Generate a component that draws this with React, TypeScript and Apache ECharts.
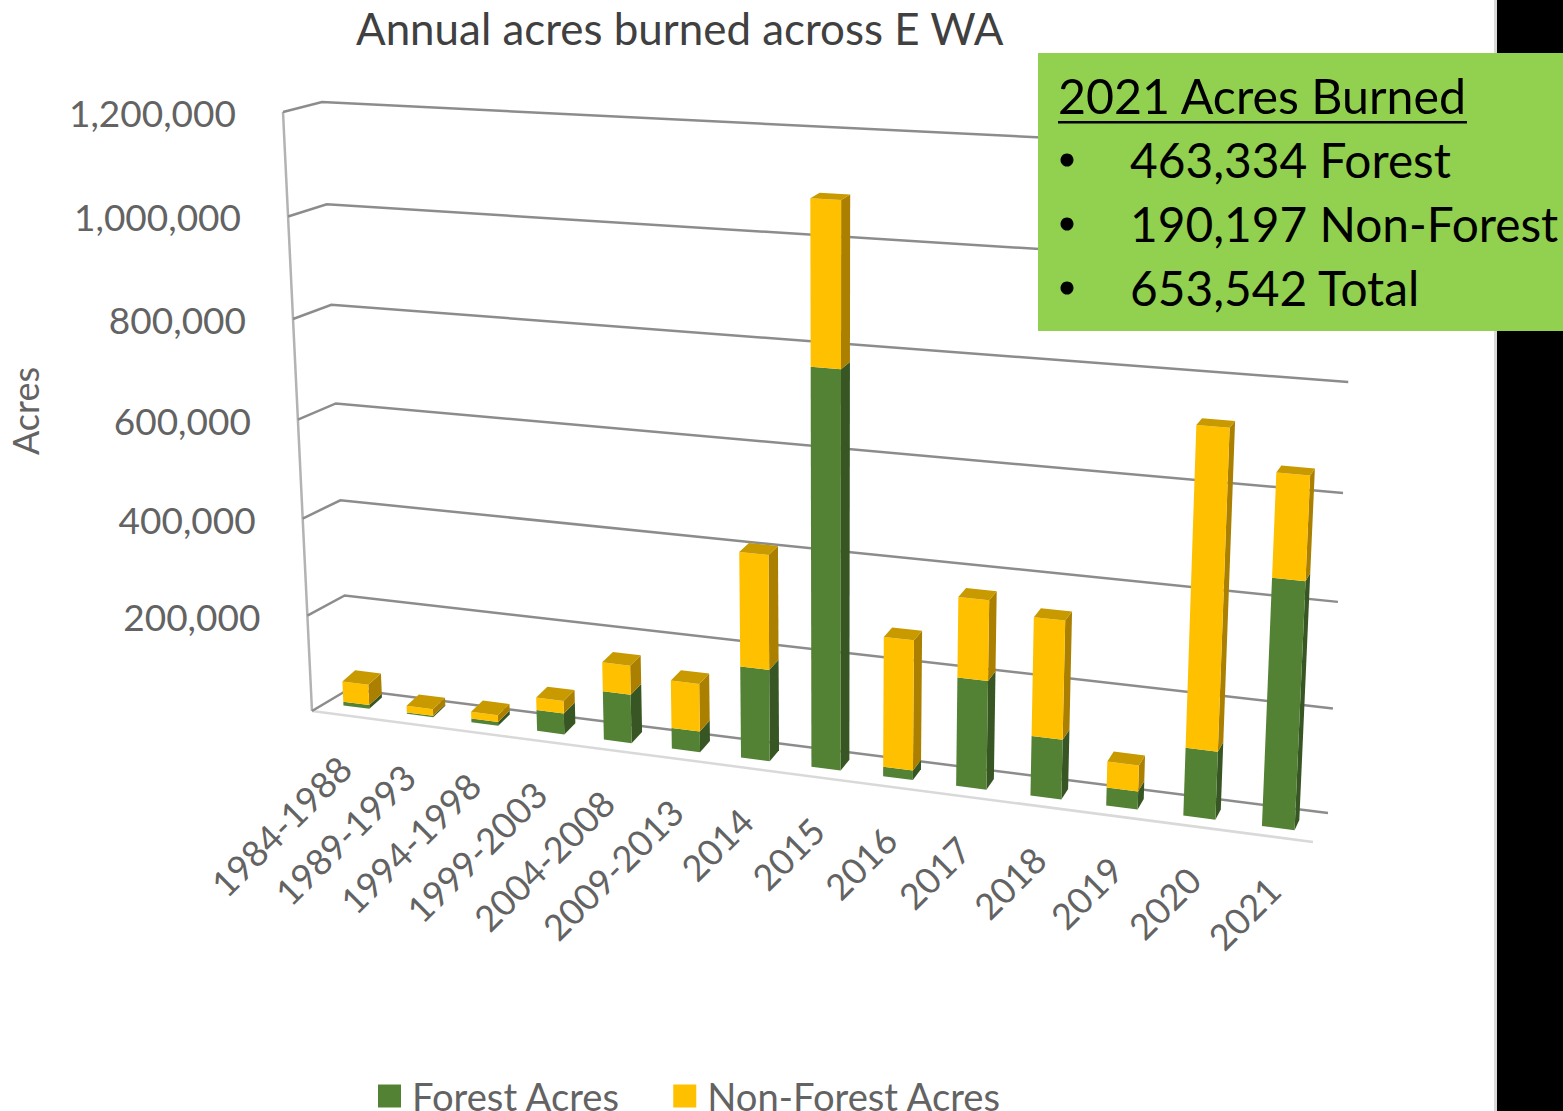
import React, { useEffect, useRef } from "react";
import * as echarts from "echarts";

const categories = ["1984-1988","1989-1993","1994-1998","1999-2003","2004-2008","2009-2013","2014","2015","2016","2017","2018","2019","2020","2021"];
const forestAcres = [8000,3000,8000,43000,99000,42000,183000,775000,19000,212000,116000,35000,130000,463334];
const nonForestAcres = [43000,14000,14000,26000,59000,96000,226000,310000,255000,155000,228000,50000,596000,190197];
const yTicks = [0,200000,400000,600000,800000,1000000,1200000];
const yTickLabels = ["","200,000","400,000","600,000","800,000","1,000,000","1,200,000"];
const boxHeading = "2021 Acres Burned";
const boxLines = ["463,334 Forest","190,197 Non-Forest","653,542 Total"];

type Pt = [number, number];
function homography(p0: Pt, p1: Pt, p2: Pt, p3: Pt) {
  const dx1 = p1[0]-p2[0], dx2 = p3[0]-p2[0], sx = p0[0]-p1[0]+p2[0]-p3[0];
  const dy1 = p1[1]-p2[1], dy2 = p3[1]-p2[1], sy = p0[1]-p1[1]+p2[1]-p3[1];
  const den = dx1*dy2-dx2*dy1;
  const g = (sx*dy2-dx2*sy)/den, h = (dx1*sy-sx*dy1)/den;
  const a = p1[0]-p0[0]+g*p1[0], b = p3[0]-p0[0]+h*p3[0], c = p0[0];
  const d = p1[1]-p0[1]+g*p1[1], e = p3[1]-p0[1]+h*p3[1], f = p0[1];
  return (u: number, v: number): Pt => {
    const w = g*u+h*v+1;
    return [(a*u+b*v+c)/w, (d*u+e*v+f)/w];
  };
}
const frontPlane = homography([312,711],[1313,842],[1344,165],[283,112]);
const backPlane = homography([349,689],[1328,813],[1359,153],[322,102]);

function project(cs: any, px: number, py: number, depthX: number, depthY: number = depthX): Pt {
  const u = (px-cs.x)/cs.width, v = (cs.y+cs.height-py)/cs.height;
  const F = frontPlane(u,v), B = backPlane(u,v);
  return [F[0]+(B[0]-F[0])*depthX, F[1]+(B[1]-F[1])*depthY];
}

const FONT = "Lato, 'Open Sans', sans-serif";
const TEXT = "#636363";

function barItem(front: string, side: string, top: string, withTop: boolean) {
  return (params: any, api: any) => {
    const cs = params.coordSys;
    const i = api.value(0), lo = api.value(1), hi = api.value(2);
    const bw = api.size([1,0])[0]*0.41;
    const c0 = api.coord([i,lo]), c1 = api.coord([i,hi]);
    const u = (c0[0]-cs.x)/cs.width;
    const dx0 = 0.35, dx1 = 0.7-0.05*u;
    const dy0 = 0.36-0.06*u, dy1 = 0.88-0.23*u;
    const xl = c0[0]-bw/2, xr = c0[0]+bw/2;
    const fl0 = project(cs,xl,c0[1],dx0,dy0), fr0 = project(cs,xr,c0[1],dx0,dy0);
    const fl1 = project(cs,xl,c1[1],dx0,dy0), fr1 = project(cs,xr,c1[1],dx0,dy0);
    const br0 = project(cs,xr,c0[1],dx1,dy1), br1 = project(cs,xr,c1[1],dx1,dy1), bl1 = project(cs,xl,c1[1],dx1,dy1);
    const children: any[] = [
      { type:"polygon", shape:{points:[fr0,br0,br1,fr1]}, style:{fill:side} },
      { type:"polygon", shape:{points:[fl0,fr0,fr1,fl1]}, style:{fill:front} },
    ];
    if (withTop) children.push({ type:"polygon", shape:{points:[fl1,fr1,br1,bl1]}, style:{fill:top} });
    return { type:"group", children };
  };
}

function wallItem(params: any, api: any) {
  const cs = params.coordSys;
  const v = api.value(1);
  const y = api.coord([0,v])[1];
  const L = cs.x, R = cs.x+cs.width;
  const a = project(cs,L,y,0), b = project(cs,L,y,1), c = project(cs,R,y,1);
  return { type:"polyline", shape:{points:[a,b,c]}, style:{stroke:"#8c8c8c", lineWidth:2.5, fill:"none"} };
}

function frameItem(params: any) {
  const cs = params.coordSys;
  const L = cs.x, R = cs.x+cs.width, B = cs.y+cs.height, T = cs.y;
  return { type:"group", children:[
    { type:"line", shape:{x1:project(cs,L,T,0)[0],y1:project(cs,L,T,0)[1],x2:project(cs,L,B,0)[0],y2:project(cs,L,B,0)[1]}, style:{stroke:"#b3b3b3",lineWidth:2.5} },
    { type:"line", shape:{x1:project(cs,L,B,0)[0],y1:project(cs,L,B,0)[1],x2:project(cs,R,B,0)[0],y2:project(cs,R,B,0)[1]}, style:{stroke:"#d9d9d9",lineWidth:2.5} },
  ]};
}

function yLabelItem(params: any, api: any) {
  const cs = params.coordSys;
  const y = api.coord([0,api.value(1)])[1];
  const p = project(cs,cs.x,y,0);
  return { type:"text", x:p[0]-47, y:p[1]+0.5, style:{text:yTickLabels[params.dataIndex], font:`37px ${FONT}`, fill:TEXT, align:"right", verticalAlign:"middle"} };
}

function xLabelItem(params: any, api: any) {
  const cs = params.coordSys;
  const i = api.value(0);
  const c = api.coord([i,0]);
  const p = project(cs,c[0],c[1],0);
  return { type:"text", x:p[0]+1, y:p[1]+47, rotation:Math.PI/4, style:{text:categories[i], font:`36px ${FONT}`, fill:TEXT, align:"right", verticalAlign:"middle"} };
}

export default function App() {
  const ref = useRef<HTMLDivElement>(null);
  useEffect(() => {
    document.body.style.margin = "0";
    document.body.style.background = "#fff";
    const chart = echarts.init(ref.current!, null, { renderer: "svg" });
    const forestData = categories.map((_,i)=>[i,0,forestAcres[i]]);
    const nonData = categories.map((_,i)=>[i,forestAcres[i],forestAcres[i]+nonForestAcres[i]]);
    const boxX = 1038, rowY = [95,159,223,287];
    chart.setOption({
      animation:false,
      backgroundColor:"#fff",
      title:{ text:"Annual acres burned across E WA", left:351, top:1, textStyle:{ fontFamily:FONT, fontWeight:"normal", fontSize:43.9, color:"#404040" } },
      legend:{ left:378, top:1077, padding:0, itemWidth:23, itemHeight:23, itemGap:53, icon:"rect", data:["Forest Acres","Non-Forest Acres"], textStyle:{ fontFamily:FONT, fontSize:38.2, color:TEXT, padding:[0,0,0,6] }, selectedMode:false },
      grid:{ left:312, top:100, width:1000, height:600 },
      xAxis:{ type:"category", data:categories, show:false },
      yAxis:{ type:"value", min:0, max:1200000, interval:200000, show:false },
      graphic:[
        { type:"text", x:25, y:411, rotation:Math.PI/2, z:5, style:{ text:"Acres", font:`36px ${FONT}`, fill:TEXT, align:"center", verticalAlign:"middle" } },
        { type:"rect", z:10, shape:{ x:1494, y:0, width:3.5, height:1111 }, style:{ fill:"#d9d9d9" } },
        { type:"rect", z:10, shape:{ x:1497, y:0, width:66, height:1111 }, style:{ fill:"#000" } },
        { type:"rect", z:11, shape:{ x:boxX, y:53, width:525, height:278 }, style:{ fill:"#92d050" } },
        { type:"text", z:12, x:1058, y:rowY[0], style:{ text:boxHeading, font:`48.3px ${FONT}`, fill:"#000", verticalAlign:"middle" } },
        { type:"rect", z:12, shape:{ x:1058, y:121, width:409, height:2.5 }, style:{ fill:"#000" } },
        ...boxLines.flatMap((t,i)=>[
          { type:"circle", z:12, shape:{ cx:1067, cy:rowY[i+1]+1, r:6.5 }, style:{ fill:"#000" } },
          { type:"text", z:12, x:1130, y:rowY[i+1], style:{ text:t, font:`47.8px ${FONT}`, fill:"#000", verticalAlign:"middle" } },
        ]),
      ],
      series:[
        { type:"custom", name:"frame", coordinateSystem:"cartesian2d", renderItem:frameItem, data:[[0,0]], silent:true, z:1 },
        { type:"custom", name:"walls", coordinateSystem:"cartesian2d", renderItem:wallItem, data:yTicks.map(v=>[0,v]), silent:true, z:1 },
        { type:"custom", name:"yLabels", coordinateSystem:"cartesian2d", renderItem:yLabelItem, data:yTicks.map(v=>[0,v]), silent:true, z:1 },
        { type:"custom", name:"xLabels", coordinateSystem:"cartesian2d", renderItem:xLabelItem, data:categories.map((_,i)=>[i,0]), silent:true, z:1 },
        { type:"custom", name:"Forest Acres", coordinateSystem:"cartesian2d", renderItem:barItem("#548235","#375623","#375623",false), encode:{x:0,y:[1,2]}, data:forestData, itemStyle:{color:"#548235"}, z:2 },
        { type:"custom", name:"Non-Forest Acres", coordinateSystem:"cartesian2d", renderItem:barItem("#ffc000","#ab8000","#c99a00",true), encode:{x:0,y:[1,2]}, data:nonData, itemStyle:{color:"#ffc000"}, z:3 },
      ],
    });
    return () => chart.dispose();
  }, []);
  return <div ref={ref} style={{ width:1563, height:1111 }} />;
}
